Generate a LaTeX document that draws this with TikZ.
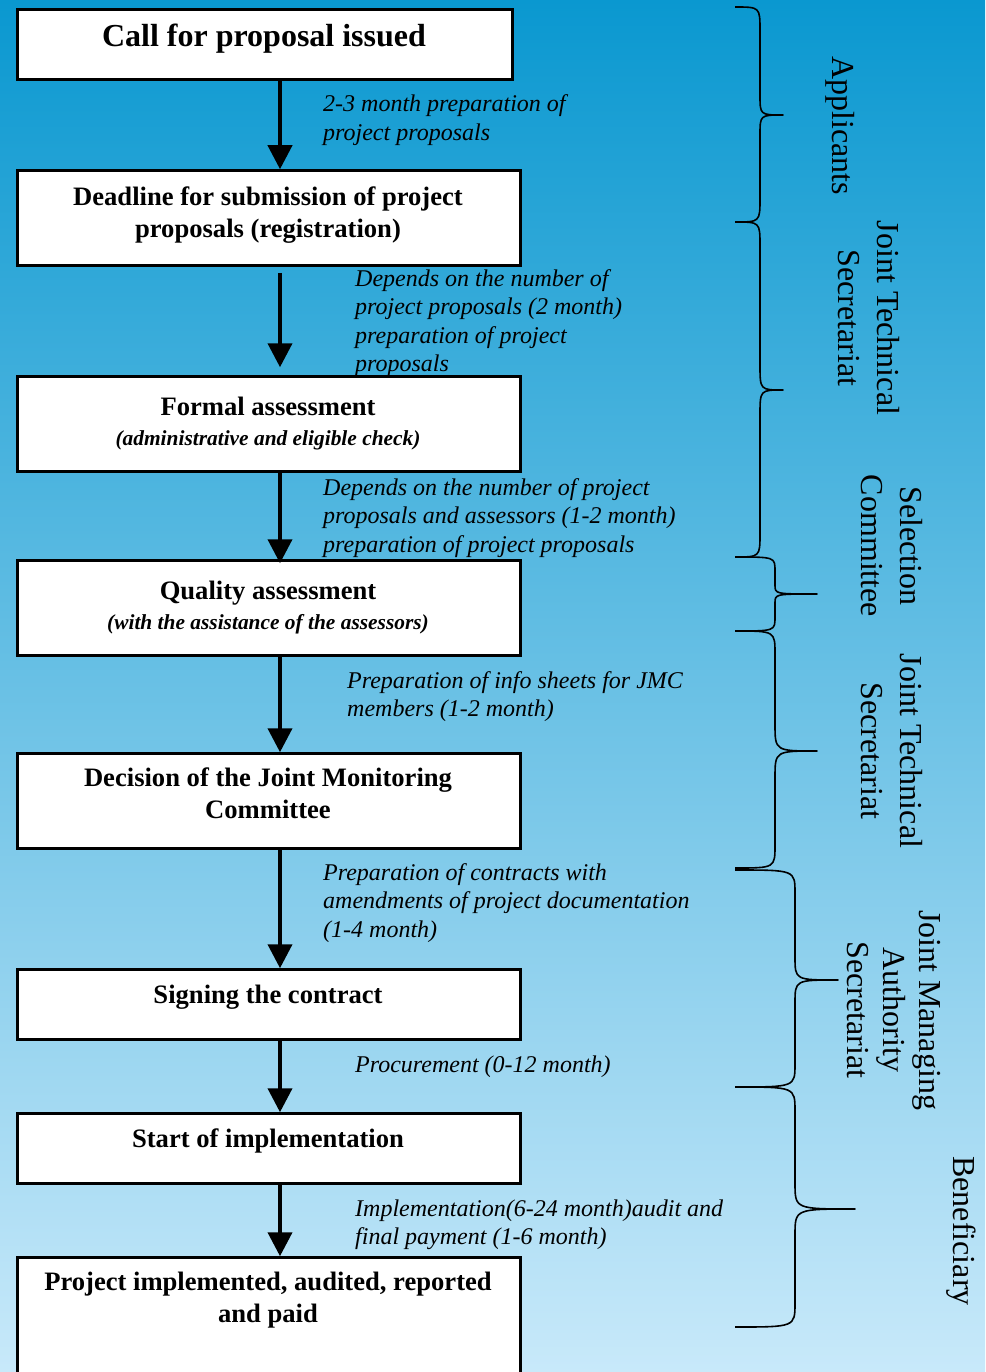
\documentclass[tikz,border=0pt]{standalone}
\usepackage{fontspec}
\setmainfont{Liberation Serif}
\usetikzlibrary{arrows.meta}
\definecolor{bgtop}{RGB}{10,152,208}
\definecolor{bgbot}{RGB}{200,233,250}
\tikzset{
  flowbox/.style={draw=black, line width=2.5pt, fill=white, rectangle, inner sep=0pt, anchor=north west},
  titletxt/.style={font=\fontsize{32}{38}\selectfont\bfseries, align=center, inner sep=0pt, anchor=base},
  boxtxt/.style={font=\fontsize{26.6}{32}\selectfont\bfseries, align=center, inner sep=0pt, anchor=base},
  subtxt/.style={font=\fontsize{21.4}{25}\selectfont\bfseries\itshape, inner sep=0pt, anchor=base},
  lbl/.style={font=\fontsize{24}{28.6}\selectfont\itshape, align=left, inner sep=0pt, anchor=base west},
  who/.style={font=\fontsize{32}{39}\selectfont, align=center, rotate=-90, inner sep=0pt, anchor=center},
  flowarrow/.style={line width=4pt, -{Triangle[width=24pt,length=24pt]}},
  bracel/.style={line width=1.6pt, line join=round},
}
% #1 end x, #2 vertical x, #3 tip x, #4 top y, #5 tip y, #6 bottom y, #7 end radius, #8 tip radius
\newcommand\mybrace[8]{%
  \draw[bracel] (#1,#4) .. controls (#2,#4) .. (#2,{#4+#7}) -- (#2,{#5-#8})
     .. controls (#2,#5) .. (#3,#5) .. controls (#2,#5) .. (#2,{#5+#8})
     -- (#2,{#6-#7}) .. controls (#2,#6) .. (#1,#6);}
\begin{document}
\begin{tikzpicture}[x=1pt,y=-1pt]
\useasboundingbox (0,0) rectangle (985,1372);
\clip (0,0) rectangle (985,1372);
\shade[top color=bgtop, bottom color=bgbot] (0,0) rectangle (985,1372);

% boxes (positions and sizes measured on the border centre line)
\node[flowbox, minimum width=495pt, minimum height=70pt] (b1) at (16.25,8.25) {};
\node[flowbox, minimum width=503pt, minimum height=95pt] (b2) at (16.25,169.25) {};
\node[flowbox, minimum width=503pt, minimum height=95pt] (b3) at (16.25,375.25) {};
\node[flowbox, minimum width=503pt, minimum height=95pt] (b4) at (16.25,559.25) {};
\node[flowbox, minimum width=503pt, minimum height=95pt] (b5) at (16.25,752.25) {};
\node[flowbox, minimum width=503pt, minimum height=70pt] (b6) at (16.25,968.25) {};
\node[flowbox, minimum width=503pt, minimum height=70pt] (b7) at (16.25,1112.25) {};
\node[flowbox, minimum width=503pt, minimum height=140pt] (b8) at (16.25,1256.25) {};

% box texts (anchor = baseline of the last line)
\node[titletxt] (t1) at (264,47) {Call for proposal issued};
\node[boxtxt] (t2) at (268,237) {Deadline for submission of project\\proposals (registration)};
\node[boxtxt] (t3) at (268,415) {Formal assessment};
\node[subtxt] (s3) at (268,445) {(administrative and eligible check)};
\node[boxtxt] (t4) at (268,599) {Quality assessment};
\node[subtxt] (s4) at (268,629) {(with the assistance of the assessors)};
\node[boxtxt] (t5) at (268,818) {Decision of the Joint Monitoring\\Committee};
\node[boxtxt] (t6) at (268,1003) {Signing the contract};
\node[boxtxt] (t7) at (268,1147) {Start of implementation};
\node[boxtxt] (t8) at (268,1322) {Project implemented, audited, reported\\and paid};

% arrows
\coordinate (ax) at (280,0);
\draw[flowarrow] (b1.south -| ax) -- (b2.north -| ax);
\draw[flowarrow] ([yshift=-6pt]b2.south -| ax) -- ([yshift=8pt]b3.north -| ax);
\draw[flowarrow] (b3.south -| ax) -- ([yshift=-4pt]b4.north -| ax);
\draw[flowarrow] (b4.south -| ax) -- (b5.north -| ax);
\draw[flowarrow] (b5.south -| ax) -- (b6.north -| ax);
\draw[flowarrow] (b6.south -| ax) -- (b7.north -| ax);
\draw[flowarrow] (b7.south -| ax) -- (b8.north -| ax);

% labels (anchor = baseline of the last line)
\node[lbl] (l1) at (323,140.6) {2-3 month preparation of\\project proposals};
\node[lbl] (l2) at (355,371.8) {Depends on the number of\\project proposals (2 month)\\preparation of project\\proposals};
\node[lbl] (l3) at (323,552.2) {Depends on the number of project\\proposals and assessors (1-2 month)\\preparation of project proposals};
\node[lbl] (l4) at (347,716.6) {Preparation of info sheets for JMC\\members (1-2 month)};
\node[lbl] (l5) at (323,937.2) {Preparation of contracts with\\amendments of project documentation\\(1-4 month)};
\node[lbl] (l6) at (355,1072) {Procurement (0-12 month)};
\node[lbl] (l7) at (355,1244.6) {Implementation(6-24 month)audit and\\final payment (1-6 month)};

% braces
\mybrace{735}{760}{783}{7}{115}{222}{24}{20}
\mybrace{735}{760}{783}{222}{390}{557}{24}{25}
\mybrace{735}{775}{817}{557}{594}{631}{14}{9}
\mybrace{735}{775}{817}{631}{751}{868}{23}{27}
\mybrace{735}{795}{838}{870}{980}{1087}{23}{23}
\mybrace{735}{795}{855}{1087}{1209}{1327}{24}{26}

% roles
\node[who] (r1) at (840,126) {Applicants};
\node[who] (r2) at (869,318) {Joint Technical\\Secretariat};
\node[who] (r3) at (892,546) {Selection\\Committee};
\node[who] (r4) at (892,751) {Joint Technical\\Secretariat};
\node[who, font=\fontsize{32}{36}\selectfont] (r5) at (894,1010) {Joint Managing\\Authority\\Secretariat};
\node[who] (r6) at (961,1231) {Beneficiary};
\end{tikzpicture}
\end{document}
